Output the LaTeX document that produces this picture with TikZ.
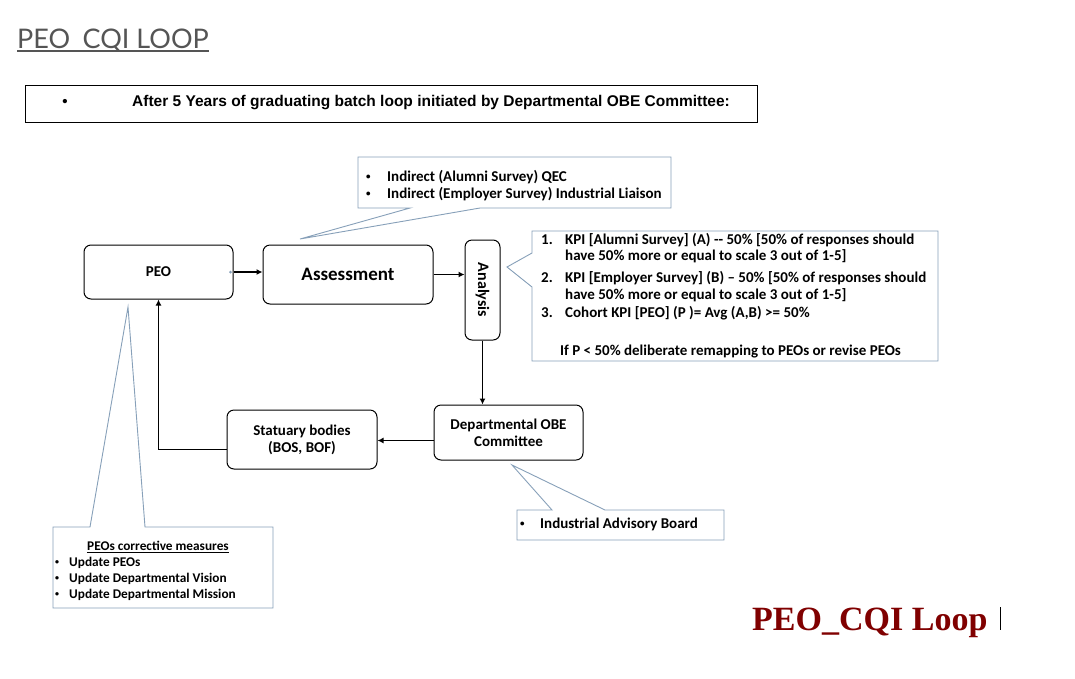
\documentclass[tikz,border=0pt]{standalone}
\usepackage{fontspec}
\setmainfont{Carlito}
\newfontfamily\latof{Lato}
\newfontfamily\arialf{Liberation Sans}
\newfontfamily\timesf{Liberation Serif}
\usetikzlibrary{arrows.meta}
\definecolor{callc}{RGB}{135,160,185}
\definecolor{titlegray}{RGB}{85,85,85}
\definecolor{darkred}{RGB}{128,0,0}
\newcommand{\sbul}{\scalebox{0.6}{\textbullet}}
\tikzset{
  procbox/.style={draw, rounded corners=7pt, line width=1pt, inner sep=0pt, align=center,
    font=\bfseries\fontsize{15}{17}\selectfont},
  callout/.style={draw=callc, line width=0.9pt, fill=white},
  flow/.style={-{Latex[length=6pt,width=6pt]}, line width=1.8pt},
  txt/.style={anchor=west, inner sep=0pt, font=\bfseries\fontsize{15}{17}\selectfont},
  smtxt/.style={anchor=west, inner sep=0pt, font=\bfseries\fontsize{13.3}{15}\selectfont},
}
\begin{document}
\begin{tikzpicture}[x=1pt,y=-1pt]
\useasboundingbox (0,0) rectangle (1075,678);
% title
\node[anchor=base west, inner sep=0pt, text=titlegray, font=\latof\fontsize{27}{30}\selectfont] (title) at (17,48) {PEO\_CQI LOOP};
\draw[titlegray, line width=1.2pt] ([yshift=-3pt]title.base west) -- ([yshift=-3pt]title.base east);
% header box
\node[draw, line width=1pt, minimum width=732pt, minimum height=37pt, inner sep=0pt] (hdr) at (391,103.5) {};
\node[inner sep=0pt, font=\arialf\bfseries\fontsize{15}{15}\selectfont] (hdrb) at (65,103) {•};
\node[anchor=west, inner sep=0pt, font=\arialf\bfseries\fontsize{15.5}{17}\selectfont] (hdrt) at (132,103) {After 5 Years of graduating batch loop initiated by Departmental OBE Committee:};
% process boxes
\node[procbox, minimum width=149pt, minimum height=54pt] (peo) at (158.5,272) {PEO};
\node[procbox, minimum width=170pt, minimum height=59pt, font=\bfseries\fontsize{19}{21}\selectfont] (assess) at (348,274.5) {Assessment};
\node[procbox, minimum width=35pt, minimum height=100pt] (ana) at (482.5,290) {};
\node[rotate=-90, inner sep=0pt, font=\bfseries\fontsize{16}{18}\selectfont] (anat) at (ana.center) {Analysis};
\node[procbox, minimum width=149pt, minimum height=55pt] (dept) at (508.5,432.5) {Departmental OBE\\Committee};
\node[procbox, minimum width=150pt, minimum height=59pt] (stat) at (302,439.5) {Statuary bodies\\(BOS, BOF)};
% flows
\draw[flow] (peo.east) -- (peo.east -| assess.west);
\fill[callc] ([xshift=-3pt]peo.east) circle (1.5pt);
\draw[flow] (assess.east) -- (assess.east -| ana.west);
\draw[flow] (ana.south) -- (ana.south |- dept.north);
\draw[flow] ([yshift=-8pt]dept.west) -- ([yshift=-8pt]dept.west -| stat.east);
\draw[flow] ([yshift=-10pt]stat.west) -| (peo.south);
% callout: assessment sources
\draw[callout] (358,157) -- (671,157) -- (671,208) -- (480,208) -- (300,239) -- (410,208) -- (358,208) -- cycle;
\node[txt] (b1) at (366,177) {\sbul};
\node[txt] (s1) at (387,177) {Indirect (Alumni Survey) QEC};
\node[txt] (b2) at (366,194) {\sbul};
\node[txt] (s2) at (387,194) {Indirect (Employer Survey) Industrial Liaison};
% callout: KPI
\draw[callout] (532,231) -- (938,231) -- (938,361) -- (532,361) -- (532,287) -- (507,267) -- (532,253) -- cycle;
\node[txt] (k1n) at (541,240) {1.};
\node[txt] (k1a) at (565,240) {KPI [Alumni Survey] (A) -{}- 50\% [50\% of responses should};
\node[txt] (k1b) at (565,256) {have 50\% more or equal to scale 3 out of 1-5]};
\node[txt] (k2n) at (541,278) {2.};
\node[txt] (k2a) at (565,278) {KPI [Employer Survey] (B) – 50\% [50\% of responses should};
\node[txt] (k2b) at (565,295) {have 50\% more or equal to scale 3 out of 1-5]};
\node[txt] (k3n) at (541,313) {3.};
\node[txt] (k3a) at (565,313) {Cohort KPI [PEO] (P )= Avg (A,B) >= 50\%};
\node[txt] (k4) at (560,351) {If P < 50\% deliberate remapping to PEOs or revise PEOs};
% callout: industrial advisory board
\draw[callout] (517,510) -- (552,510) -- (512,465) -- (605,510) -- (724,510) -- (724,540) -- (517,540) -- cycle;
\node[txt] (ib) at (520,524) {\sbul};
\node[txt] (it) at (540,524) {Industrial Advisory Board};
% callout: PEOs corrective measures
\draw[callout] (53,527) -- (90,527) -- (128,307) -- (145,527) -- (273,527) -- (273,608) -- (53,608) -- cycle;
\node[smtxt, anchor=center] (ch) at (158,546) {PEOs corrective measures};
\draw[line width=0.6pt] ([yshift=-1.5pt]ch.base west) -- ([yshift=-1.5pt]ch.base east);
\node[smtxt] (c1b) at (55,563) {\sbul};
\node[smtxt] (c1) at (69,563) {Update PEOs};
\node[smtxt] (c2b) at (55,579) {\sbul};
\node[smtxt] (c2) at (69,579) {Update Departmental Vision};
\node[smtxt] (c3b) at (55,595) {\sbul};
\node[smtxt] (c3) at (69,595) {Update Departmental Mission};
% bottom caption
\node[anchor=base west, inner sep=0pt, text=darkred, font=\timesf\bfseries\fontsize{34}{36}\selectfont] (cap) at (752,630) {PEO\_CQI Loop};
\draw[line width=1pt] (1000,607) -- (1000,630);
\end{tikzpicture}
\end{document}
